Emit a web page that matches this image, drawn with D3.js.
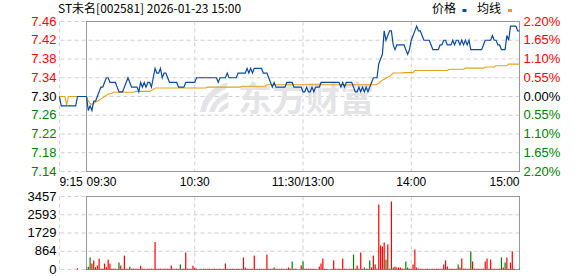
<!DOCTYPE html>
<html>
<head>
<meta charset="utf-8">
<script src="https://cdn.jsdelivr.net/npm/d3@7"></script>
<style>
  body { margin: 0; background: #fff; }
  svg { display: block; font-family: "Liberation Sans", Arial, sans-serif; }
</style>
</head>
<body>
<svg id="chart"></svg>
<script>
/* intraday price / volume chart, 9:15 pre-market + 9:30-15:00 session */

const title = "ST未名[002581] 2026-01-23 15:00";
const prevClose = 7.30;

// pre-market 9:15 .. 9:29 (auction)
const prePrice = [7.30, 7.28, 7.28, 7.28, 7.28, 7.28, 7.28, 7.28, 7.28, 7.28, 7.30, 7.30, 7.30, 7.30, 7.30];
const preAvg   = [7.30, 7.30, 7.30, 7.30, 7.282, 7.30, 7.30, 7.30, 7.30, 7.30, 7.30, 7.30, 7.30, 7.30, 7.30];
const preVol   = [0, 0, 0, 0, 0, 0, 0, 0, 0, 0, 60, 0, 0, 0, 0];

// session, one value per minute (241)
const price = [
  7.30,7.27,7.28,7.27,7.29,7.29,7.30,7.31,7.32,7.32,
  7.33,7.34,7.34,7.33,7.33,7.33,7.33,7.32,7.31,7.31,
  7.31,7.32,7.33,7.34,7.33,7.32,7.32,7.32,7.32,7.31,
  7.33,7.32,7.33,7.32,7.33,7.33,7.32,7.34,7.36,7.35,
  7.35,7.36,7.34,7.35,7.35,7.34,7.33,7.33,7.33,7.33,
  7.33,7.32,7.32,7.32,7.32,7.33,7.33,7.33,7.33,7.33,
  7.33,7.34,7.34,7.34,7.34,7.34,7.34,7.34,7.34,7.34,
  7.34,7.34,7.34,7.33,7.34,7.34,7.34,7.34,7.35,7.34,
  7.34,7.34,7.34,7.34,7.35,7.35,7.35,7.35,7.35,7.36,
  7.35,7.36,7.35,7.36,7.36,7.36,7.36,7.36,7.35,7.35,
  7.35,7.34,7.33,7.32,7.33,7.32,7.32,7.32,7.32,7.32,
  7.32,7.33,7.33,7.33,7.33,7.32,7.32,7.32,7.32,7.32,
  7.31,7.31,7.32,7.31,7.31,7.32,7.31,7.32,7.32,7.32,
  7.33,7.33,7.33,7.33,7.33,7.33,7.33,7.33,7.33,7.33,
  7.33,7.32,7.33,7.32,7.33,7.33,7.33,7.33,7.32,7.31,
  7.31,7.32,7.31,7.32,7.31,7.32,7.31,7.32,7.33,7.34,
  7.34,7.34,7.37,7.38,7.39,7.44,7.42,7.43,7.44,7.44,
  7.41,7.40,7.41,7.41,7.41,7.41,7.41,7.40,7.39,7.40,
  7.42,7.43,7.44,7.45,7.44,7.44,7.43,7.42,7.42,7.42,
  7.42,7.41,7.40,7.40,7.40,7.40,7.41,7.41,7.42,7.42,
  7.41,7.41,7.41,7.42,7.41,7.42,7.42,7.41,7.42,7.41,
  7.42,7.41,7.42,7.40,7.40,7.40,7.40,7.40,7.40,7.40,
  7.41,7.42,7.42,7.42,7.42,7.43,7.42,7.42,7.41,7.41,
  7.40,7.40,7.40,7.43,7.42,7.45,7.45,7.45,7.45,7.44,
  7.44
];

const avgPrice = [
  7.300,7.290,7.285,7.283,7.285,7.288,7.290,7.292,7.295,7.297,
  7.300,7.303,7.305,7.306,7.307,7.309,7.309,7.309,7.309,7.309,
  7.309,7.309,7.309,7.309,7.309,7.309,7.309,7.311,7.311,7.311,
  7.311,7.311,7.311,7.311,7.311,7.311,7.313,7.315,7.318,7.318,
  7.318,7.318,7.318,7.318,7.318,7.318,7.318,7.318,7.318,7.318,
  7.318,7.318,7.318,7.318,7.318,7.318,7.318,7.318,7.318,7.318,
  7.318,7.318,7.318,7.318,7.318,7.318,7.318,7.320,7.320,7.320,
  7.320,7.320,7.320,7.320,7.320,7.320,7.320,7.320,7.320,7.320,
  7.320,7.320,7.320,7.320,7.320,7.320,7.322,7.322,7.322,7.322,
  7.322,7.322,7.322,7.322,7.322,7.322,7.322,7.322,7.322,7.322,
  7.325,7.325,7.325,7.325,7.325,7.325,7.325,7.325,7.325,7.325,
  7.325,7.325,7.325,7.325,7.325,7.325,7.325,7.325,7.325,7.325,
  7.325,7.325,7.325,7.325,7.325,7.325,7.325,7.325,7.325,7.325,
  7.325,7.325,7.325,7.325,7.325,7.325,7.325,7.325,7.325,7.325,
  7.325,7.325,7.325,7.325,7.325,7.325,7.325,7.325,7.325,7.325,
  7.325,7.325,7.325,7.325,7.325,7.325,7.325,7.325,7.325,7.325,
  7.325,7.326,7.328,7.332,7.335,7.337,7.339,7.341,7.343,7.346,
  7.350,7.350,7.350,7.350,7.350,7.350,7.351,7.351,7.351,7.351,
  7.351,7.351,7.3555,7.3555,7.3555,7.3555,7.3555,7.3555,7.3555,7.3555,
  7.3555,7.3555,7.3555,7.3555,7.3555,7.3555,7.3555,7.3555,7.3555,7.3555,
  7.3555,7.358,7.358,7.358,7.358,7.358,7.358,7.358,7.358,7.358,
  7.3605,7.3605,7.3605,7.3605,7.3605,7.3605,7.3605,7.3605,7.3605,7.3605,
  7.3605,7.363,7.363,7.363,7.363,7.363,7.363,7.3655,7.3655,7.3655,
  7.3655,7.3655,7.3655,7.3655,7.369,7.369,7.369,7.369,7.369,7.369,
  7.369
];

const volume = [
  40,130,570,280,430,110,190,520,40,40,
  280,110,470,280,40,35,40,30,330,190,
  40,660,40,35,130,40,45,35,40,30,
  175,40,35,30,40,35,40,30,1300,40,
  35,40,30,40,35,40,30,190,40,35,
  40,30,240,35,40,805,40,30,35,175,
  70,40,0,35,30,40,30,35,40,30,
  35,40,30,35,40,30,35,285,40,30,
  35,40,30,35,40,30,35,570,90,40,
  30,35,40,660,30,35,40,30,35,40,
  710,40,30,35,95,40,30,35,40,35,
  30,40,95,40,380,40,40,0,0,190,
  380,40,40,35,40,35,40,30,0,140,
  285,520,40,30,0,0,35,430,40,35,
  40,30,520,40,35,30,40,35,710,40,
  190,35,805,30,95,40,35,430,95,660,
  240,40,3080,1140,1090,1280,475,1185,40,3220,
  95,140,95,95,95,50,40,380,95,40,
  35,240,950,95,40,35,40,30,35,40,
  30,35,40,30,35,40,30,35,240,430,
  140,40,35,40,30,35,240,95,520,40,
  40,35,40,855,380,40,35,40,30,35,
  40,380,520,40,475,35,40,30,35,40,
  570,95,330,570,40,330,855,40,0,0,
  40
];
// minutes whose volume bar is green (price down)
const greenBars = [1,2,5,18,24,52,104,114,120,148,154,157,166,170,177,178,206,213,223,230,232,234,240];

const priceTicks = [7.46, 7.42, 7.38, 7.34, 7.30, 7.26, 7.22, 7.18, 7.14];
const pctLabels  = ["2.20%", "1.65%", "1.10%", "0.55%", "0.00%", "0.55%", "1.10%", "1.65%", "2.20%"];
const volTicks   = [0, 864.25, 1728.5, 2592.75, 3457];
const volLabels  = ["0", "864", "1729", "2593", "3457"];
const timeTicks  = [-15, 0, 60, 120, 180, 240];
const timeLabels = ["9:15", "09:30", "10:30", "11:30/13:00", "14:00", "15:00"];
const gridTimes  = [-15, 60, 120, 180];

const RED = "#ff0000", GREEN = "#008000", BLUE = "#0a4aa0", GOLD = "#e3a21a";

function createChart() {
  let w = 578, h = 276;
  let svg = d3.select("#chart").attr("width", w).attr("height", h);

  let x = d3.scaleLinear().domain([0, 240]).range([86.5, 519.5]);
  let xl = x(-15), xr = x(240);
  let y = d3.scaleLinear().domain([7.14, 7.46]).range([171.5, 21.5]);
  let yv = d3.scaleLinear().domain([0, 3457]).range([269.5, 196.5]);

  // dashed grids for both panels
  function grid(scale, ticks, top, bottom) {
    svg.append("g")
      .attr("transform", `translate(${xr},0)`)
      .call(d3.axisLeft(scale).tickValues(ticks).tickSize(xr - xl).tickFormat("").offset(0))
      .call(g => g.select(".domain").remove())
      .selectAll("line").attr("stroke", "#cfcfcf").attr("stroke-dasharray", "4,3");
    svg.append("g")
      .attr("transform", `translate(0,${top})`)
      .call(d3.axisBottom(x).tickValues(gridTimes).tickSize(bottom - top).tickFormat("").offset(0))
      .call(g => g.select(".domain").remove())
      .selectAll("line").attr("stroke", "#cfcfcf").attr("stroke-dasharray", "4,3");
  }
  grid(y, priceTicks, 21.5, 171.5);
  grid(yv, volTicks, 196.5, 269.5);

  // watermark
  let wm = svg.append("g").attr("fill", "#e4e4e6");
  wm.append("path").attr("d", "M200,112 C202,98 211,87 228,82 L226,89 C214,94 207,103 206,112 Z");
  wm.append("path").attr("d", "M209,112 C212,102 219,95 229,92 L227,99 C220,101 216,106 215,112 Z");
  wm.append("path").attr("d", "M218,112 C220,107 224,104 229,102 L228,108 C225,109 223,110 223,112 Z");
  wm.append("text")
    .attr("x", 306).attr("y", 111)
    .attr("text-anchor", "middle")
    .style("font-family", "'Noto Sans CJK SC'")
    .style("font-size", "34px").style("font-weight", "bold")
    .text("东方财富");

  // frames
  svg.append("rect").attr("x", x(0)).attr("y", 21.5).attr("width", xr - x(0)).attr("height", 150)
    .attr("fill", "none").attr("stroke", "#979797");
  svg.append("rect").attr("x", x(0)).attr("y", 196.5).attr("width", xr - x(0)).attr("height", 73)
    .attr("fill", "none").attr("stroke", "#979797");

  // lines
  let pts = prePrice.map((p, k) => [k - 15, p]).concat(price.map((p, i) => [i, p]));
  let avg = preAvg.map((p, k) => [k - 15, p]).concat(avgPrice.map((p, i) => [i, p]));
  let line = d3.line().x(d => x(d[0])).y(d => y(d[1]));
  svg.append("path").datum(avg).attr("d", line)
    .attr("fill", "none").attr("stroke", GOLD).attr("stroke-width", 1.1);
  svg.append("path").datum(pts).attr("d", line)
    .attr("fill", "none").attr("stroke", BLUE).attr("stroke-width", 1.2);

  // volume bars
  let vols = preVol.map((v, k) => ({t: k - 15, v: v, up: true}))
    .concat(volume.map((v, i) => ({t: i, v: v, up: !greenBars.includes(i)})))
    .filter(d => d.v > 0);
  svg.selectAll("rect.vol")
    .data(vols)
    .enter()
    .append("rect")
    .attr("class", "vol")
    .attr("x", d => x(d.t) - 0.6)
    .attr("width", 1.2)
    .attr("y", d => yv(d.v))
    .attr("height", d => yv(0) - yv(d.v))
    .attr("fill", d => d.up ? RED : GREEN);

  // axes labels
  let left = svg.append("g")
    .attr("transform", `translate(${xl},0)`)
    .call(d3.axisLeft(y).tickValues(priceTicks).tickSize(0).tickPadding(3).tickFormat(d3.format(".2f")).offset(0));
  left.select(".domain").remove();
  left.selectAll("text").style("font-size", "13px")
    .attr("fill", d => d > prevClose ? RED : d < prevClose ? GREEN : "#000");

  let right = svg.append("g")
    .attr("transform", `translate(${xr},0)`)
    .call(d3.axisRight(y).tickValues(priceTicks).tickSize(0).tickPadding(4)
      .tickFormat((d, i) => pctLabels[i]).offset(0));
  right.select(".domain").remove();
  right.selectAll("text").style("font-size", "13px")
    .attr("fill", d => d > prevClose ? RED : d < prevClose ? GREEN : "#000");

  let bottom = svg.append("g")
    .attr("transform", "translate(0,171.5)")
    .call(d3.axisBottom(x).tickValues(timeTicks).tickSize(0).tickPadding(6)
      .tickFormat((d, i) => timeLabels[i]).offset(0));
  bottom.select(".domain").remove();
  bottom.selectAll("text").style("font-size", "12px").attr("fill", "#000")
    .attr("text-anchor", (d, i) => i < 2 ? "start" : i == timeTicks.length - 1 ? "end" : "middle");

  let vleft = svg.append("g")
    .attr("transform", `translate(${xl},0)`)
    .call(d3.axisLeft(yv).tickValues(volTicks).tickSize(0).tickPadding(3)
      .tickFormat((d, i) => volLabels[i]).offset(0));
  vleft.select(".domain").remove();
  vleft.selectAll("text").style("font-size", "13px").attr("fill", "#000");

  // title + legend
  svg.append("text").attr("x", 58).attr("y", 13)
    .style("font-family", "'Noto Sans CJK SC'").style("font-size", "12px")
    .text(title);
  let lg = svg.append("g").style("font-family", "'Noto Sans CJK SC'").style("font-size", "12px");
  lg.append("text").attr("x", 432).attr("y", 13).text("价格");
  lg.append("rect").attr("x", 462.5).attr("y", 9).attr("width", 4).attr("height", 3).attr("fill", BLUE);
  lg.append("text").attr("x", 477).attr("y", 13).text("均线");
  lg.append("rect").attr("x", 508).attr("y", 9).attr("width", 4).attr("height", 3).attr("fill", GOLD);
}

window.onload = createChart;
</script>
</body>
</html>
